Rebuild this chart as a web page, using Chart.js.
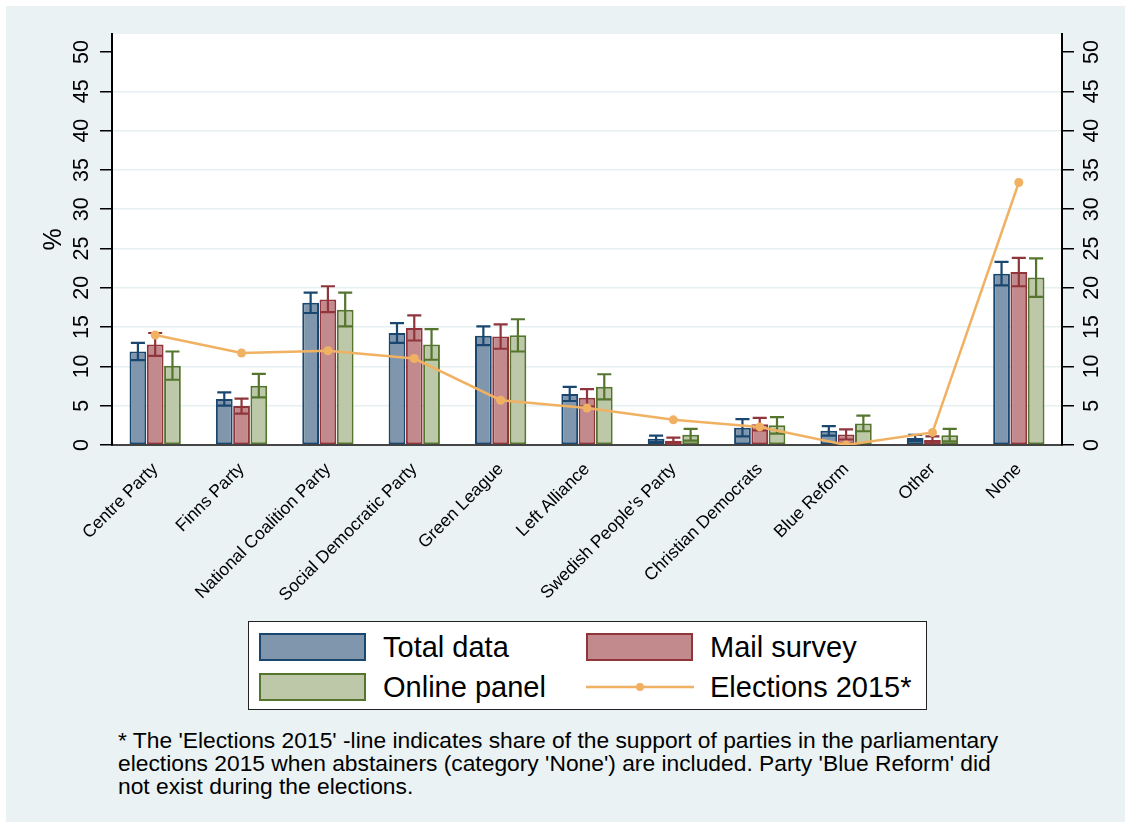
<!DOCTYPE html>
<html>
<head>
<meta charset="utf-8">
<script src="https://cdn.jsdelivr.net/npm/chart.js@4"></script>
<style>
  html, body { margin: 0; padding: 0; background: #fff; }
  body { width: 1127px; height: 825px; position: relative; overflow: hidden;
         font-family: "Liberation Sans", Arial, sans-serif; }
  #bg { position: absolute; left: 6px; top: 6px; width: 1119px; height: 816px; background: #eaf2f3; }
  #wrap { position: absolute; left: 0; top: 0; width: 1127px; height: 620px; }
  #legend { position: absolute; left: 248px; top: 621px; width: 677px; height: 87px;
            background: #fff; border: 1.5px solid #222; }
  .item { position: absolute; font-size: 29px; color: #000; line-height: 32px; }
  .sw { position: absolute; width: 103px; height: 24px; border: 2px solid; }
  #note { position: absolute; left: 118px; top: 729px; font-size: 22.8px; line-height: 23px; color: #000; }
</style>
</head>
<body>
<div id="bg"></div>
<div id="wrap"><canvas id="c"></canvas></div>
<div id="legend"></div>
<div id="note">* The 'Elections 2015' -line indicates share of the support of parties in the parliamentary<br>elections 2015 when abstainers (category 'None') are included. Party 'Blue Reform' did<br>not exist during the elections.</div>
<script>
// Party support by survey mode, with 95% CI caps, plus 2015 election result line.
var PARTIES = ['Centre Party', 'Finns Party', 'National Coalition Party', 'Social Democratic Party',
  'Green League', 'Left Alliance', "Swedish People's Party", 'Christian Democrats',
  'Blue Reform', 'Other', 'None'];

var TOTAL    = [11.9, 5.85, 18.1, 14.25, 13.9, 6.5, 0.8, 2.2, 1.8, 0.9, 21.8];
var TOTAL_HI = [13.0, 6.7, 19.4, 15.5, 15.1, 7.4, 1.2, 3.3, 2.4, 1.3, 23.3];
var TOTAL_LO = [10.8, 5.0, 16.8, 13.0, 12.7, 5.6, 0.4, 1.1, 1.2, 0.5, 20.3];

var MAIL     = [12.8, 4.95, 18.5, 14.9, 13.8, 6.0, 0.55, 2.65, 1.35, 0.65, 22.0];
var MAIL_HI  = [14.25, 5.9, 20.2, 16.5, 15.35, 7.1, 0.95, 3.45, 2.0, 1.1, 23.8];
var MAIL_LO  = [11.35, 4.0, 16.9, 13.3, 12.25, 4.9, 0.15, 1.85, 0.7, 0.2, 20.2];

var ONLINE    = [10.1, 7.55, 17.2, 12.8, 13.95, 7.4, 1.3, 2.5, 2.75, 1.25, 21.3];
var ONLINE_HI = [11.9, 9.05, 19.4, 14.75, 16.0, 9.0, 2.05, 3.55, 3.75, 2.05, 23.75];
var ONLINE_LO = [8.3, 6.05, 15.1, 10.85, 11.9, 5.8, 0.55, 1.45, 1.75, 0.45, 18.85];

var ELECTIONS = [14.0, 11.7, 12.0, 11.0, 5.7, 4.7, 3.2, 2.3, 0, 1.6, 33.4];

var Y_TICKS = [0, 5, 10, 15, 20, 25, 30, 35, 40, 45, 50];

var SERIES = [
  { label: 'Total data',   data: TOTAL,  lo: TOTAL_LO,  hi: TOTAL_HI,  fill: '#7f96ad', line: '#1a476f' },
  { label: 'Mail survey',  data: MAIL,   lo: MAIL_LO,   hi: MAIL_HI,   fill: '#c38a8e', line: '#90353b' },
  { label: 'Online panel', data: ONLINE, lo: ONLINE_LO, hi: ONLINE_HI, fill: '#bcc8a7', line: '#55752f' }
];
var ELECT_COLOR = '#f0b262';
var FONT = '"Liberation Sans", Arial, sans-serif';

function buildLegend() {
  var el = document.getElementById('legend');
  var pos = [[10, 11], [337, 11], [10, 51]];
  SERIES.forEach(function(s, i) {
    var sw = document.createElement('div');
    sw.className = 'sw';
    sw.style.cssText = 'left:' + pos[i][0] + 'px;top:' + pos[i][1] + 'px;background:' + s.fill + ';border-color:' + s.line + ';';
    el.appendChild(sw);
    var t = document.createElement('div');
    t.className = 'item';
    t.style.cssText = 'left:' + (pos[i][0] + 124) + 'px;top:' + (pos[i][1] - 2) + 'px;';
    t.textContent = s.label;
    el.appendChild(t);
  });
  var ln = document.createElement('div');
  ln.innerHTML = '<svg width="108" height="12" style="position:absolute;left:337px;top:59px">' +
    '<line x1="0" y1="6" x2="108" y2="6" stroke="' + ELECT_COLOR + '" stroke-width="2.5"/>' +
    '<circle cx="54" cy="6" r="4" fill="' + ELECT_COLOR + '"/></svg>';
  el.appendChild(ln);
  var t2 = document.createElement('div');
  t2.className = 'item';
  t2.style.cssText = 'left:461px;top:49px;';
  t2.textContent = 'Elections 2015*';
  el.appendChild(t2);
}

var errorBars = {
  id: 'errorBars',
  beforeDraw: function(chart) {
    var a = chart.chartArea, ctx = chart.ctx;
    ctx.save();
    ctx.fillStyle = '#fff';
    ctx.fillRect(a.left, a.top, a.right - a.left, a.bottom - a.top);
    ctx.restore();
  },
  afterDatasetDraw: function(chart, args) {
    var s = SERIES[args.index];
    if (!s) return;
    var y = chart.scales.y, ctx = chart.ctx;
    ctx.save();
    ctx.strokeStyle = s.line;
    ctx.lineWidth = 2.2;
    args.meta.data.forEach(function(bar, j) {
      var yh = y.getPixelForValue(s.hi[j]), yl = y.getPixelForValue(s.lo[j]);
      var half = bar.width * 0.42;
      ctx.beginPath();
      ctx.moveTo(bar.x, yh); ctx.lineTo(bar.x, yl);
      ctx.moveTo(bar.x - half, yh); ctx.lineTo(bar.x + half, yh);
      ctx.moveTo(bar.x - half, yl); ctx.lineTo(bar.x + half, yl);
      ctx.stroke();
    });
    ctx.restore();
  }
};

function yAxis(pos, width) {
  return {
    position: pos,
    min: 0, max: 52.3,
    afterBuildTicks: function(sc) { sc.ticks = Y_TICKS.map(function(v) { return { value: v }; }); },
    afterFit: function(sc) { sc.width = width; },
    border: { display: true, color: '#000', width: 2 },
    grid: {
      drawOnChartArea: pos === 'left',
      color: function(c) { return (c.tick && (c.tick.value === 0 || c.tick.value === 50)) ? 'rgba(0,0,0,0)' : '#e6eff1'; },
      lineWidth: 1.5,
      tickColor: '#000', tickLength: 12, tickWidth: 1.5
    },
    ticks: {
      minRotation: 90, maxRotation: 90, crossAlign: 'center', padding: 6,
      color: '#000', font: { family: FONT, size: 21.5 }
    },
    title: pos === 'left'
      ? { display: true, text: '%', color: '#000', font: { family: FONT, size: 25 }, padding: { top: 39, bottom: 0 } }
      : { display: false }
  };
}

function render() {
  buildLegend();
  var datasets = SERIES.map(function(s) {
    return {
      type: 'bar', label: s.label, data: s.data,
      backgroundColor: s.fill, borderColor: s.line, borderWidth: 2, borderSkipped: false,
      categoryPercentage: 0.6, barPercentage: 0.97, order: 1
    };
  });
  datasets.push({
    type: 'line', label: 'Elections 2015*', data: ELECTIONS,
    borderColor: ELECT_COLOR, backgroundColor: ELECT_COLOR, borderWidth: 2.5,
    pointRadius: 4.5, pointBorderWidth: 0, tension: 0, order: 0
  });

  new Chart(document.getElementById('c'), {
    type: 'bar',
    data: { labels: PARTIES, datasets: datasets },
    plugins: [errorBars],
    options: {
      responsive: false,
      animation: false,
      layout: { padding: { top: 34, left: 0, right: 0, bottom: 0 } },
      plugins: { legend: { display: false }, tooltip: { enabled: false } },
      scales: {
        x: {
          afterFit: function(sc) { sc.height = 175; },
          border: { display: true, color: '#444', width: 2 },
          grid: { display: false },
          ticks: {
            autoSkip: false, minRotation: 45, maxRotation: 45, padding: 6,
            color: '#000', font: { family: FONT, size: 17.5 }
          }
        },
        y: yAxis('left', 112),
        y2: yAxis('right', 65)
      }
    }
  });
}

var cv = document.getElementById('c');
cv.width = 1127; cv.height = 620;
cv.style.width = '1127px'; cv.style.height = '620px';
render();
</script>
</body>
</html>
